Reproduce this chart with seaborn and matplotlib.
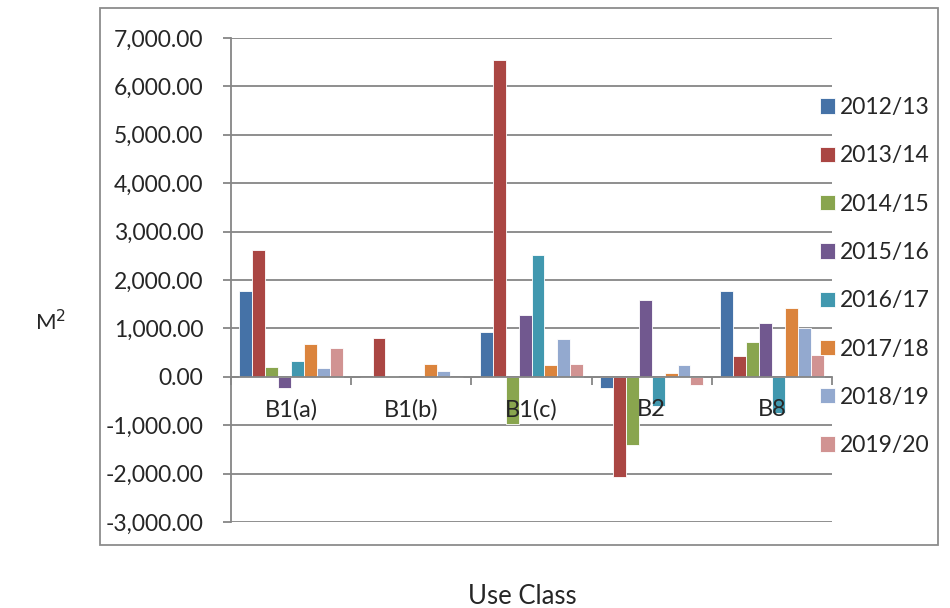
import numpy as np
import pandas as pd
import matplotlib

matplotlib.use('Agg')
import matplotlib.pyplot as plt
import seaborn as sns
from matplotlib.patches import Rectangle
from matplotlib.ticker import FuncFormatter, FixedLocator

# --- data (m2 per use class and year) ---
use_classes = ['B1(a)', 'B1(b)', 'B1(c)', 'B2', 'B8']
years = ['2012/13', '2013/14', '2014/15', '2015/16',
         '2016/17', '2017/18', '2018/19', '2019/20']

v_2012_13 = [1770, 0, 920, -230, 1770]
v_2013_14 = [2610, 800, 6550, -2060, 420]
v_2014_15 = [210, 10, -970, -1400, 710]
v_2015_16 = [-230, 0, 1270, 1590, 1110]
v_2016_17 = [330, 0, 2520, -600, -740]
v_2017_18 = [680, 260, 240, 80, 1420]
v_2018_19 = [180, 110, 780, 240, 1010]
v_2019_20 = [600, 0, 260, -160, 460]

series = [v_2012_13, v_2013_14, v_2014_15, v_2015_16,
          v_2016_17, v_2017_18, v_2018_19, v_2019_20]

colors = ['#4572A7', '#AA4643', '#89A54E', '#71588F',
          '#4198AF', '#DB843D', '#93A9CF', '#D19392']

y_ticks = np.arange(-3000, 7001, 1000)

df = pd.DataFrame({
    'Use Class': np.tile(use_classes, len(years)),
    'Year': np.repeat(years, len(use_classes)),
    'M2': np.concatenate(series),
})

sns.set_style('white')
plt.rcParams['font.family'] = ['Lato', 'DejaVu Sans']

fig = plt.figure(figsize=(9.5, 6.08), dpi=100)
ax = fig.add_axes([231 / 950, 1 - 522 / 608, 601 / 950, 484 / 608])

sns.barplot(data=df, x='Use Class', y='M2', hue='Year', order=use_classes,
            hue_order=years, palette=colors, width=0.86, saturation=1,
            edgecolor='white', linewidth=0.6, ax=ax, zorder=2)

grid_c = '#868686'
ax.set_ylim(-3000, 7000)
ax.set_xlim(-0.5, len(use_classes) - 0.5)
ax.set_yticks(y_ticks)
ax.yaxis.set_major_formatter(FuncFormatter(lambda v, p: f'{v:,.2f}'))
# gridlines drawn under the bars, axis labels stay on top
ax.hlines(y_ticks, -0.5, len(use_classes) - 0.5, colors=grid_c, linewidth=1.3, zorder=0.5)
ax.set_axisbelow(False)

for s in ['top', 'right']:
    ax.spines[s].set_visible(False)
ax.spines['left'].set_color(grid_c)
ax.spines['left'].set_linewidth(1.3)
ax.spines['bottom'].set_position(('data', 0))
ax.spines['bottom'].set_color(grid_c)
ax.spines['bottom'].set_linewidth(1.3)
ax.spines['bottom'].set_zorder(3)

ax.tick_params(axis='y', direction='out', length=6, width=1.3, color=grid_c,
               labelsize=16.5, pad=14, left=True)
ax.tick_params(axis='x', which='major', length=0, labelsize=17, pad=16)
ax.xaxis.set_minor_locator(FixedLocator(np.arange(-0.5, len(use_classes), 1.0)))
ax.tick_params(axis='x', which='minor', direction='out', length=6, width=1.3,
               color=grid_c, bottom=True)
ax.set_xlabel('')
ax.set_ylabel('')

handles, labels = ax.get_legend_handles_labels()
ax.legend(handles, labels, loc='upper left', bbox_to_anchor=(811 / 950, 1 - 88 / 608),
          bbox_transform=fig.transFigure, frameon=False, fontsize=16.5,
          handlelength=0.65, handleheight=0.65, handletextpad=0.2,
          labelspacing=1.19, borderaxespad=0)

fig.text(51 / 950, 1 - 322 / 608, 'M$^{2}$', fontsize=16, ha='center', va='center')
fig.text(522 / 950, 1 - 597 / 608, 'Use Class', fontsize=18.5, ha='center', va='center')

fig.patches.append(Rectangle((100 / 950, 1 - 545 / 608), 838 / 950, 537 / 608,
                             transform=fig.transFigure, fill=False,
                             edgecolor='#8c8c8c', linewidth=1.3))

fig.savefig('out.png', dpi=100)
